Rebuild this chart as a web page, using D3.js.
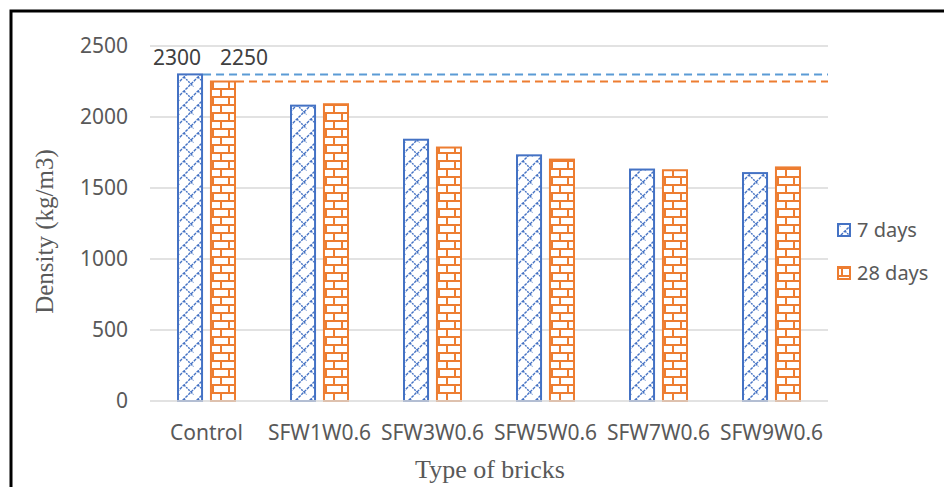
<!DOCTYPE html>
<html>
<head>
<meta charset="utf-8">
<script src="https://cdn.jsdelivr.net/npm/d3@7"></script>
<style>
  html, body { margin: 0; padding: 0; background: #fff; }
  svg { display: block; }
</style>
</head>
<body>
<svg id="chart" width="944" height="487"></svg>
<script>
// Brick density by mix, at 7 and 28 days of curing
const categories = ["Control", "SFW1W0.6", "SFW3W0.6", "SFW5W0.6", "SFW7W0.6", "SFW9W0.6"];
const seriesNames = ["7 days", "28 days"];
const days7 = [2300, 2080, 1840, 1730, 1630, 1605];
const days28 = [2250, 2090, 1785, 1700, 1625, 1645];
const yTicks = [0, 500, 1000, 1500, 2000, 2500];
const labelledSeries = [0, 1]; // control values shown as text and as reference lines

const colors = ["#4472c4", "#ed7d31"];
const refColors = ["#5b9bd5", "#ed7d31"];

const svg = d3.select("#chart");
const W = 944, H = 487;
const plot = { left: 150, right: 828, top: 46, bottom: 401 };
const sans = "'Noto Sans', sans-serif";
const serif = "'Liberation Serif', serif";
const fs = 21;

// Frame around the figure
svg.append("path")
  .attr("d", `M11,${H} L11,11 L${W},11`)
  .attr("fill", "none")
  .attr("stroke", "#000")
  .attr("stroke-width", 3);

// Fill patterns
const defs = svg.append("defs");
const weave = defs.append("pattern")
  .attr("id", "pat-weave")
  .attr("patternUnits", "userSpaceOnUse")
  .attr("width", 14).attr("height", 14);
weave.append("rect").attr("width", 14).attr("height", 14).attr("fill", "#fff");
weave.append("path")
  .attr("d", "M0,14 L14,0")
  .attr("stroke", colors[0]).attr("stroke-width", 1.4)
  .attr("stroke-dasharray", "3,1").attr("fill", "none");
weave.append("path")
  .attr("d", "M7,7 L14,14 M0,0 L2.5,2.5")
  .attr("stroke", colors[0]).attr("stroke-width", 1.4)
  .attr("stroke-dasharray", "2,1").attr("fill", "none");

const brick = defs.append("pattern")
  .attr("id", "pat-brick")
  .attr("patternUnits", "userSpaceOnUse")
  .attr("width", 16).attr("height", 16);
brick.append("rect").attr("width", 16).attr("height", 16).attr("fill", "#fff");
brick.append("path")
  .attr("d", "M0,1 L16,1 M0,9 L16,9 M4,1 L4,9 M12,9 L12,17")
  .attr("stroke", colors[1]).attr("stroke-width", 2).attr("fill", "none");

const patterns = ["url(#pat-weave)", "url(#pat-brick)"];

// Scales
const x0 = d3.scaleBand()
  .domain(categories)
  .range([plot.left, plot.right])
  .paddingInner(0.478)
  .paddingOuter(0.239);
const x1 = d3.scaleBand()
  .domain(seriesNames)
  .range([0, x0.bandwidth()])
  .paddingInner(0.21)
  .paddingOuter(0);
const y = d3.scaleLinear()
  .domain([0, 2500])
  .range([plot.bottom, plot.top]);

// Gridlines
svg.append("g")
  .selectAll("line")
  .data(yTicks.filter(d => d > 0))
  .join("line")
  .attr("x1", plot.left).attr("x2", plot.right)
  .attr("y1", d => y(d)).attr("y2", d => y(d))
  .attr("stroke", "#d9d9d9").attr("stroke-width", 1.5);

// Y axis labels
const yAxis = svg.append("g")
  .attr("transform", `translate(${plot.left},0)`)
  .call(d3.axisLeft(y).tickValues(yTicks).tickFormat(d3.format("d")).tickSize(0).tickPadding(22));
yAxis.select(".domain").remove();
yAxis.selectAll("text")
  .attr("font-family", sans)
  .attr("font-size", fs)
  .attr("fill", "#595959");

// Series data table
const table = categories.map((c, i) => ({ cat: c, values: [days7[i], days28[i]] }));

// Reference lines at the control values
labelledSeries.forEach(s => {
  const xStart = x0(categories[0]) + x1(seriesNames[s]) + x1.bandwidth();
  svg.append("line")
    .attr("x1", xStart).attr("x2", plot.right)
    .attr("y1", y(table[0].values[s])).attr("y2", y(table[0].values[s]))
    .attr("stroke", refColors[s]).attr("stroke-width", 2)
    .attr("stroke-dasharray", "8,5");
});

// Bars
const groups = svg.append("g")
  .selectAll("g")
  .data(table)
  .join("g")
  .attr("transform", d => `translate(${x0(d.cat)},0)`);
groups.selectAll("rect")
  .data(d => d.values.map((v, s) => ({ v, s })))
  .join("rect")
  .attr("x", d => x1(seriesNames[d.s]) + 1)
  .attr("width", x1.bandwidth() - 2)
  .attr("y", d => y(d.v))
  .attr("height", d => y(0) - y(d.v))
  .attr("fill", d => patterns[d.s])
  .attr("stroke", d => colors[d.s])
  .attr("stroke-width", 2);

// Baseline
svg.append("line")
  .attr("x1", plot.left).attr("x2", plot.right)
  .attr("y1", y(0)).attr("y2", y(0))
  .attr("stroke", "#d9d9d9").attr("stroke-width", 1.5);

// Control value labels, set on a common line above the tallest bar
const labelOffsets = [-13, 21];
const labelY = y(d3.max(labelledSeries, s => table[0].values[s])) - 9;
labelledSeries.forEach(s => {
  const cx = x0(categories[0]) + x1(seriesNames[s]) + x1.bandwidth() / 2;
  svg.append("text")
    .attr("x", cx + labelOffsets[s])
    .attr("y", labelY)
    .attr("text-anchor", "middle")
    .attr("font-family", sans)
    .attr("font-size", fs)
    .attr("fill", "#404040")
    .text(table[0].values[s]);
});

// Category labels
svg.append("g")
  .selectAll("text")
  .data(categories)
  .join("text")
  .attr("x", d => x0(d) + x0.bandwidth() / 2)
  .attr("y", 440)
  .attr("text-anchor", "middle")
  .attr("font-family", sans)
  .attr("font-size", fs)
  .attr("fill", "#595959")
  .text(d => d);

// Axis titles
svg.append("text")
  .attr("x", 490)
  .attr("y", 478)
  .attr("text-anchor", "middle")
  .attr("font-family", serif)
  .attr("font-size", 26)
  .attr("fill", "#595959")
  .text("Type of bricks");
svg.append("text")
  .attr("transform", `translate(53,${(plot.top + plot.bottom) / 2 + 8}) rotate(-90)`)
  .attr("text-anchor", "middle")
  .attr("font-family", serif)
  .attr("font-size", 25)
  .attr("fill", "#595959")
  .text("Density (kg/m3)");

// Legend
const legend = svg.append("g")
  .selectAll("g")
  .data(seriesNames)
  .join("g")
  .attr("transform", (d, i) => `translate(838,${224 + i * 43})`);
legend.append("rect")
  .attr("width", 12).attr("height", 12)
  .attr("fill", (d, i) => patterns[i])
  .attr("stroke", (d, i) => colors[i])
  .attr("stroke-width", 2);
legend.append("text")
  .attr("x", 19).attr("y", 13)
  .attr("font-family", sans)
  .attr("font-size", 20)
  .attr("fill", "#595959")
  .text(d => d);
</script>
</body>
</html>
